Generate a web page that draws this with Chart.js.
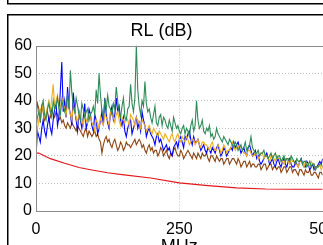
<!DOCTYPE html>
<html><head><meta charset="utf-8">
<script src="https://cdn.jsdelivr.net/npm/chart.js@4/dist/chart.umd.min.js"></script>
<style>
html,body{margin:0;padding:0;width:323px;height:245px;overflow:hidden;background:#fff;}
#wrap{position:absolute;left:0;top:0;width:345px;height:260px;}
</style></head>
<body><div id="wrap"><canvas id="c" width="345" height="260"></canvas></div>
<script>
const freqs = [0,5,10,15,20,25,30,35,40,45,50,55,60,65,70,75,80,85,90,95,100,105,110,115,120,125,130,135,140,145,150,155,160,165,170,175,180,185,190,195,200,205,210,215,220,225,230,235,240,245,250,255,260,265,270,275,280,285,290,295,300,305,310,315,320,325,330,335,340,345,350,355,360,365,370,375,380,385,390,395,400,405,410,415,420,425,430,435,440,445,450,455,460,465,470,475,480,485,490,495,500];
const midFreqs = [2.5,7.5,12.5,17.5,22.5,27.5,32.5,37.5,42.5,47.5,52.5,57.5,62.5,67.5,72.5,77.5,82.5,87.5,92.5,97.5,102.5,107.5,112.5,117.5,122.5,127.5,132.5,137.5,142.5,147.5,152.5,157.5,162.5,167.5,172.5,177.5,182.5,187.5,192.5,197.5,202.5,207.5,212.5,217.5,222.5,227.5,232.5,237.5,242.5,247.5,252.5,257.5,262.5,267.5,272.5,277.5,282.5,287.5,292.5,297.5,302.5,307.5,312.5,317.5,322.5,327.5,332.5,337.5,342.5,347.5,352.5,357.5,362.5,367.5,372.5,377.5,382.5,387.5,392.5,397.5,402.5,407.5,412.5,417.5,422.5,427.5,432.5,437.5,442.5,447.5,452.5,457.5,462.5,467.5,472.5,477.5,482.5,487.5,492.5,497.5];
const xTicks = [0,250,500];
const yTicks = [0,10,20,30,40,50,60];

const green = [30,36,38,35,37,36,40,38,37,40,36,42,51,38,41,35,39,34,37,35,38,44,50,36,40,42,37,39,45,36,38,34,37,46,36,60,38,40,47,36,34,35,32,34,31,33,30,31,34,30,29,30,28,29,31,29,40,30,33,28,29,27,26,30,27,25,26,24,25,23,24,23,22,25,23,27,22,21,20,21,20,19,21,20,19,20,19,18,19,20,18,19,18,17,18,17,16,17,16,17,16];
const greenMid = [34,33,40,33,39,34,37,41,35,38, 39,37,43,36,38,33,37,36,33,36, 35,39,42,34,37,38,35,37,40,34, 41,33,38,39,41,44,35,38,39,37, 32,38,31,35,34,31,33,29,32,31, 28,31,30,27,33,31,33,31,29,30, 31,28,27,28,26,27,25,26,24,25, 22,24,23,22,24,23,21,22,21,22, 20,20,19,21,20,18,20,19,18,19, 17,18,19,18,16,18,17,15,16,17];
const orange = [25,33,36,34,38,36,46,40,38,41,37,39,35,38,34,36,33,35,32,34,31,33,30,32,35,33,36,34,35,33,34,32,33,35,33,34,32,33,31,30,29,30,28,29,27,28,26,27,26,27,26,27,25,26,25,26,25,24,25,24,23,24,23,22,23,22,23,22,23,24,23,24,22,21,22,21,20,21,20,21,20,19,20,19,20,19,18,19,18,19,18,17,18,17,18,17,18,17,16,17,16];
const orangeMid = [30,37,39,35,40,41,38,42,36,39, 35,37,33,36,32,34,31,33,35,32, 29,32,34,31,34,31,35,32,36,31, 33,34,31,34,31,33,30,32,29,31, 28,29,27,28,26,27,25,28,25,28, 25,26,27,24,26,24,26,23,25,24, 22,25,22,24,21,24,21,22,25,22, 23,23,21,20,22,20,21,19,21,19, 20,18,20,18,19,18,17,19,17,18, 17,16,18,16,17,16,17,15,16,15];
const blue = [20,27,30,29,31,30,33,39,34,54,40,45,35,43,33,36,30,39,32,35,29,33,30,36,41,32,36,33,41,38,31,29,30,33,30,34,32,36,31,29,28,26,27,25,24,23,22,21,23,25,26,25,27,28,26,27,25,24,23,22,23,21,22,23,22,21,22,21,23,25,24,23,22,21,23,22,21,19,18,18,20,19,18,17,18,17,18,17,18,17,16,17,18,17,16,17,16,15,16,18,19];
const blueMid = [29,25,33,27,34,28,37,31,44,36, 34,38,31,37,29,33,34,30,37,31, 35,28,33,31,35,30,38,35,36,33, 34,27,32,28,32,30,29,33,27,30, 27,24,28,26,22,24,23,20,24,23, 27,23,26,29,24,25,26,22,24,21, 22,23,21,24,20,23,20,22,22,23, 25,21,23,20,24,20,22,20,17,19, 21,17,19,16,19,16,19,16,19,16, 18,16,19,16,18,15,17,16,17,17];
const brown = [33,37,38,33,36,34,35,36,33,32,31,32,30,31,29,30,28,29,27,28,28,27,26,21,26,25,24,25,24,23,24,23,24,23,25,24,26,23,22,23,22,21,22,21,22,21,20,21,22,21,20,21,20,22,20,21,19,20,21,20,19,20,19,20,18,19,18,19,18,19,17,18,17,18,17,16,17,16,17,16,17,16,17,16,15,16,15,16,15,16,15,14,15,14,15,14,13,14,13,14,13];
const brownMid = [39,32,36,35,33,37,34,35,34,33, 30,31,32,30,31,29,27,30,29,27, 29,28,25,24,27,26,23,26,22,25, 22,25,24,24,26,25,25,24,21,24, 23,22,20,23,20,22,19,20,23,20, 22,19,21,21,19,20,21,19,20,21, 18,20,18,19,19,17,19,17,19,18, 19,16,18,16,18,17,16,17,15,17, 15,17,15,16,16,14,16,14,16,14, 15,13,15,13,14,15,13,14,12,14];
const redFreqs = [0,5,10,25,50,75,100,125,150,200,250,300,350,400,450,500];
const red = [21,21,20.5,19,17.3,15.8,14.8,13.9,13.2,12,10.2,9.2,8.4,8,7.9,7.9];

// interleave the samples read at whole and half steps
const merge = (ys, midYs) => {
  const out = [];
  freqs.forEach((f, i) => {
    out.push({x: f, y: ys[i]});
    if (i < midFreqs.length) out.push({x: midFreqs[i], y: midYs[i]});
  });
  return out;
};
const pts = (xs, ys) => xs.map((x, i) => ({x: x, y: ys[i]}));

const framePlugin = {
  id: 'frame',
  beforeDraw(chart) {
    const ctx = chart.ctx;
    ctx.save();
    ctx.strokeStyle = '#000';
    ctx.lineWidth = 1.5;
    ctx.beginPath();
    ctx.moveTo(7.75, 0); ctx.lineTo(7.75, 3.75); ctx.lineTo(345, 3.75);
    ctx.moveTo(7.75, 260); ctx.lineTo(7.75, 14.75); ctx.lineTo(345, 14.75);
    ctx.stroke();
    ctx.restore();
  },
  afterDatasetsDraw(chart) {
    const a = chart.chartArea, ctx = chart.ctx;
    ctx.save();
    ctx.strokeStyle = '#8c8c8c';
    ctx.lineWidth = 1;
    ctx.strokeRect(Math.round(a.left) + 0.5, Math.round(a.top) + 0.5, Math.round(a.right - a.left), Math.round(a.bottom - a.top));
    ctx.restore();
  }
};

const gridColor = (ctx, edges) => (edges.includes(ctx.tick && ctx.tick.value) ? 'rgba(0,0,0,0)' : '#bdbdbd');

const mk = (label, data, color) => ({label, data, borderColor: color, backgroundColor: color, borderWidth: 1.1, pointRadius: 0, tension: 0, fill: false});

const FONT = 'Liberation Sans, Arial, sans-serif';

new Chart(document.getElementById('c'), {
  type: 'line',
  data: {
    datasets: [
      mk('green', merge(green, greenMid), '#2e8b57'),
      mk('orange', merge(orange, orangeMid), '#f0ad1c'),
      mk('blue', merge(blue, blueMid), '#0000ff'),
      mk('brown', merge(brown, brownMid), '#8b4513'),
      mk('red', pts(redFreqs, red), '#e3161c')
    ]
  },
  options: {
    responsive: false,
    animation: false,
    layout: {padding: {top: 14, right: 22, left: 0, bottom: 0}},
    plugins: {
      legend: {display: false},
      tooltip: {enabled: false},
      title: {display: true, text: 'RL (dB)', color: '#000', font: {family: FONT, size: 18, weight: 'normal'}, padding: {top: 6, bottom: 4}}
    },
    scales: {
      x: {
        type: 'linear', min: 0, max: 500,
        afterBuildTicks: s => { s.ticks = xTicks.map(v => ({value: v})); },
        afterFit: s => { s.height = 49; },
        ticks: {color: '#000', padding: 9, maxRotation: 0, font: {family: FONT, size: 16}},
        grid: {drawTicks: false, color: c => gridColor(c, [0, 500]), borderDash: [1, 2], lineWidth: 1},
        border: {display: false, dash: [1, 2]},
        title: {display: true, text: 'MHz', color: '#000', font: {family: FONT, size: 18}, padding: {top: 0, bottom: 2}}
      },
      y: {
        min: 0, max: 60,
        afterBuildTicks: s => { s.ticks = yTicks.map(v => ({value: v})); },
        afterFit: s => { s.width = 36; },
        ticks: {color: '#000', padding: 4, font: {family: FONT, size: 16}},
        grid: {drawTicks: false, color: c => gridColor(c, [0, 60]), borderDash: [1, 2], lineWidth: 1},
        border: {display: false, dash: [1, 2]}
      }
    }
  },
  plugins: [framePlugin]
});
</script>
</body></html>
